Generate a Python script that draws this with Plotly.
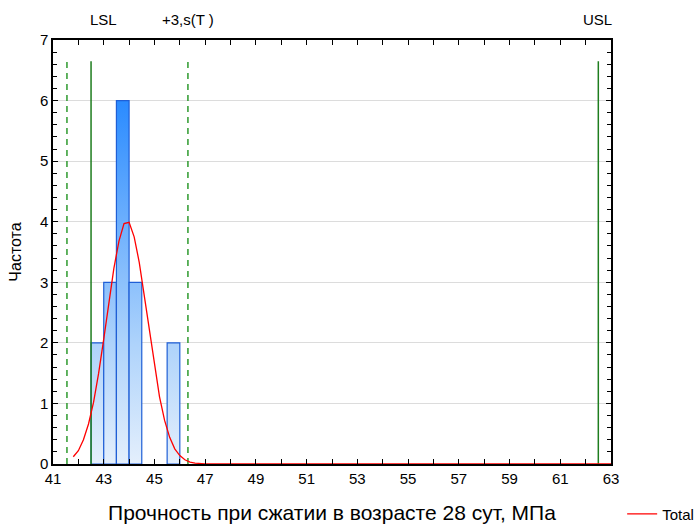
import plotly.graph_objects as go

# ---- data ----
bin_left = [42.5, 43.0, 43.5, 44.0, 45.5]
bin_width = 0.5
counts = [2, 3, 6, 3, 2]

curve_x = [41.8, 42.0, 42.2, 42.4, 42.6, 42.8, 43.0, 43.2, 43.4, 43.6, 43.8, 44.0,
           44.2, 44.4, 44.6, 44.8, 45.0, 45.2, 45.4, 45.6, 45.8, 46.0, 46.2, 46.4,
           46.6, 46.8, 47.0, 48.0, 55.0, 63.0]
curve_y = [0.12, 0.22, 0.40, 0.66, 1.02, 1.50, 2.06, 2.66, 3.23, 3.68, 3.97, 3.99,
           3.75, 3.33, 2.78, 2.18, 1.60, 1.11, 0.72, 0.44, 0.25, 0.14, 0.07, 0.03,
           0.015, 0.006, 0.002, 0.0, 0.0, 0.0]

spec_limits = [42.5, 62.5]          # LSL, USL
spec_labels = ["LSL", "USL"]
sigma_limits = [41.55, 46.32]       # -3s, +3s
sigma_label = "+3,s(T )"
limit_top = 6.65

x_ticks = [41, 43, 45, 47, 49, 51, 53, 55, 57, 59, 61, 63]
y_ticks = [0, 1, 2, 3, 4, 5, 6, 7]

FONT = "Liberation Sans, Arial, sans-serif"
fig = go.Figure()

# histogram bars as filled polygons with vertical gradient
for xl, c in zip(bin_left, counts):
    xr = xl + bin_width
    fig.add_trace(go.Scatter(
        x=[xl, xl, xr, xr, xl], y=[0, c, c, 0, 0],
        mode="lines", fill="toself",
        line=dict(color="#1f5fd6", width=1.2),
        fillgradient=dict(type="vertical",
                          colorscale=[[0, "#e4effc"], [0.33, "#aed3fb"], [1, "#2a8bff"]],
                          start=0, stop=6),
        showlegend=False, hoverinfo="skip"))

# spec limits (solid)
for xv in spec_limits:
    fig.add_trace(go.Scatter(x=[xv, xv], y=[0, limit_top], mode="lines",
                             line=dict(color="#1e7d1e", width=1.5),
                             showlegend=False, hoverinfo="skip"))
# sigma limits (dashed)
for xv in sigma_limits:
    fig.add_trace(go.Scatter(x=[xv, xv], y=[0, limit_top], mode="lines",
                             line=dict(color="#2e9a2e", width=1.5, dash="6px,5px"),
                             showlegend=False, hoverinfo="skip"))

# fitted curve
fig.add_trace(go.Scatter(x=curve_x, y=curve_y, mode="lines",
                         line=dict(color="#ff0000", width=1.3),
                         name="Total", showlegend=True))

# top labels
for xv, txt in [(43.0, spec_labels[0]), (sigma_limits[1], sigma_label), (62.47, spec_labels[1])]:
    fig.add_annotation(x=xv, y=1.0, yref="paper", yanchor="bottom", yshift=10,
                       text=txt, showarrow=False,
                       font=dict(family=FONT, size=15, color="black"))

fig.update_layout(
    width=697, height=524,
    margin=dict(l=53, r=86, t=40, b=60, autoexpand=False),
    plot_bgcolor="white", paper_bgcolor="white",
    font=dict(family=FONT, size=15, color="black"),
    legend=dict(x=1.02, y=-0.118, xanchor="left", yanchor="middle",
                font=dict(family=FONT, size=15), bgcolor="rgba(0,0,0,0)"),
)
fig.update_xaxes(
    range=[41, 63], tickvals=x_ticks, ticktext=[str(v) for v in x_ticks],
    ticks="inside", ticklen=5, tickcolor="black",
    minor=dict(dtick=1, tick0=41, ticks="inside", ticklen=5, tickcolor="black"),
    showline=True, linecolor="black", linewidth=1.5, mirror="ticks",
    showgrid=False, zeroline=False,
    title=dict(text="Прочность при сжатии в возрасте 28 сут, МПа",
               font=dict(family=FONT, size=21), standoff=20),
    tickfont=dict(family=FONT, size=15),
    automargin=False,
)
fig.update_yaxes(
    range=[0, 7], tickvals=y_ticks,
    ticks="inside", ticklen=5, tickcolor="black",
    minor=dict(dtick=0.2, tick0=0, ticks="inside", ticklen=4, tickcolor="black",
               showgrid=False),
    showline=True, linecolor="black", linewidth=1.5, mirror="ticks",
    showgrid=True, gridcolor="#dcdcdc", gridwidth=1, zeroline=False,
    title=dict(text="Частота", font=dict(family=FONT, size=16), standoff=14),
    tickfont=dict(family=FONT, size=15),
    automargin=False,
)

fig.write_html("out.html")
